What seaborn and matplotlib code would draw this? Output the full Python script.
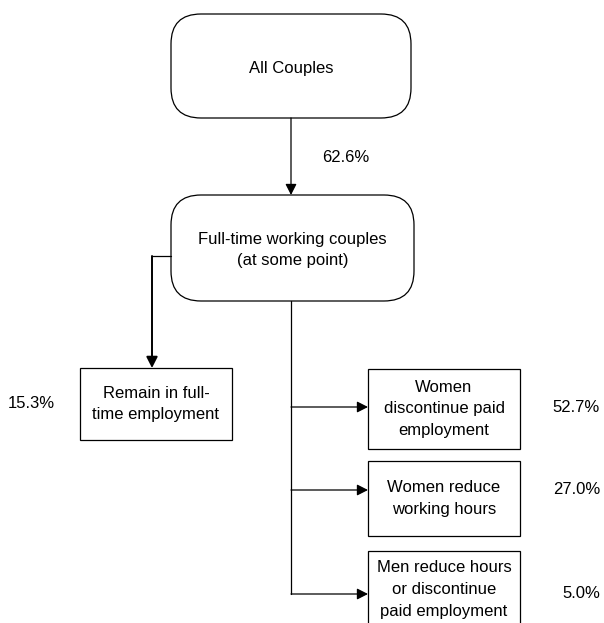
import matplotlib
matplotlib.use('Agg')
import matplotlib.pyplot as plt
import seaborn as sns
from matplotlib.patches import FancyBboxPatch

# ------------------------------------------------------------
# data
# ------------------------------------------------------------
top_label = 'All Couples'
mid_label = 'Full-time working couples\n(at some point)'
top_share = '62.6%'

left_label = 'Remain in full-\ntime employment'
left_share = '15.3%'

right_labels = ['Women\ndiscontinue paid\nemployment',
                'Women reduce\nworking hours',
                'Men reduce hours\nor discontinue\npaid employment']
right_shares = ['52.7%', '27.0%', '5.0%']

# ------------------------------------------------------------
# layout (pixel space, y down)
# ------------------------------------------------------------
sns.set_theme(style='white')
plt.rcParams['font.family'] = ['Liberation Sans', 'DejaVu Sans']
plt.rcParams['text.color'] = 'black'

fig = plt.figure(figsize=(6.04, 6.23), dpi=100)
ax = fig.add_axes([0, 0, 1, 1])
ax.set_xlim(0, 604)
ax.set_ylim(623, 0)
ax.axis('off')

FS = 12
LW = 0.9
LS = 1.55
col = 'black'


def rbox(x0, y0, x1, y1, text, rad=30):
    p = FancyBboxPatch((x0 + rad, y0 + rad), (x1 - x0) - 2 * rad, (y1 - y0) - 2 * rad,
                       boxstyle=f'round,pad={rad},rounding_size={rad}',
                       fc='white', ec=col, lw=LW)
    ax.add_patch(p)
    ax.text((x0 + x1) / 2, (y0 + y1) / 2 + 2, text, ha='center', va='center',
            fontsize=FS, linespacing=LS)


def sbox(x0, y0, x1, y1, text):
    ax.add_patch(plt.Rectangle((x0, y0), x1 - x0, y1 - y0, fc='white', ec=col, lw=LW))
    ax.text((x0 + x1) / 2, (y0 + y1) / 2, text, ha='center', va='center',
            fontsize=FS, linespacing=LS)


def arrow(x0, y0, x1, y1, lw=LW):
    ax.annotate('', xy=(x1, y1), xytext=(x0, y0),
                arrowprops=dict(arrowstyle='-|>,head_length=0.55,head_width=0.28',
                                color=col, lw=lw, shrinkA=0, shrinkB=0))


# top box and first arrow
rbox(171, 14, 411, 118, top_label)
arrow(291, 118, 291, 195)
ax.text(322, 157, top_share, ha='left', va='center', fontsize=FS)

# middle box
rbox(171, 195, 414, 301, mid_label)

# left branch
ax.plot([171, 152], [256, 256], color=col, lw=LW)
arrow(152, 256, 152, 368, lw=1.4)
sbox(80, 368, 232, 440, left_label)
ax.text(8, 404, left_share, ha='left', va='center', fontsize=FS)

# right branches
boxes_y = [(369, 449), (461, 536), (551, 628)]
branch_y = [407, 490, 594]
ax.plot([291, 291], [301, branch_y[-1]], color=col, lw=LW)
for (y0, y1), by, lab, share in zip(boxes_y, branch_y, right_labels, right_shares):
    arrow(291, by, 368, by)
    sbox(368, y0, 520, y1, lab)
    ax.text(600, by, share, ha='right', va='center', fontsize=FS)

fig.savefig('out.png', dpi=100, facecolor='white')
